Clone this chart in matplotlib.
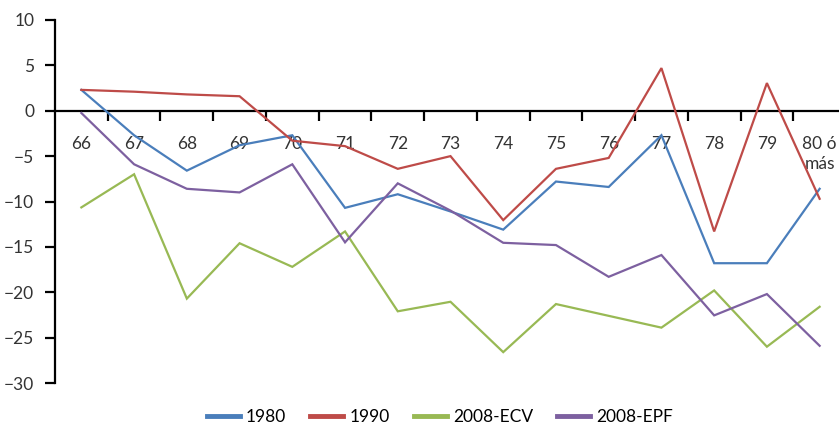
import matplotlib
matplotlib.use("Agg")
import matplotlib.pyplot as plt
import numpy as np

plt.rcParams["font.family"] = ["Lato", "DejaVu Sans"]

edades = ["66", "67", "68", "69", "70", "71", "72", "73", "74", "75",
          "76", "77", "78", "79", "80 ó\nmás"]

s1980 = [2.3, -2.7, -6.6, -3.8, -2.7, -10.7, -9.2, -11.1, -13.1, -7.8,
         -8.4, -2.7, -16.8, -16.8, -8.6]
s1990 = [2.3, 2.1, 1.8, 1.6, -3.3, -3.9, -6.4, -5.0, -12.05, -6.4,
         -5.2, 4.7, -13.3, 3.05, -9.7]
s2008_ecv = [-10.65, -7.0, -20.7, -14.6, -17.2, -13.3, -22.1, -21.05, -26.6, -21.3,
             -22.6, -23.9, -19.8, -26.0, -21.6]
s2008_epf = [-0.25, -5.9, -8.6, -9.0, -5.9, -14.5, -8.0, -11.0, -14.55, -14.8,
             -18.3, -15.9, -22.55, -20.2, -25.9]

series = [
    ("1980", s1980, "#4A7EBB"),
    ("1990", s1990, "#BE4B48"),
    ("2008-ECV", s2008_ecv, "#98B954"),
    ("2008-EPF", s2008_epf, "#7D60A0"),
]

W, H = 839, 425
fig = plt.figure(figsize=(W / 100, H / 100), dpi=100)
ax = fig.add_axes([55 / W, 42 / H, (846 - 55) / W, 363 / H])

x = np.arange(len(edades))
for nombre, vals, col in series:
    ax.plot(x, vals, color=col, lw=1.6, label=nombre, solid_joinstyle="miter")

ax.set_xlim(-0.5, len(edades) - 0.5)
ax.set_ylim(-30, 10)
ax.set_yticks(np.arange(-30, 11, 5))

for s in ("top", "right"):
    ax.spines[s].set_visible(False)
ax.spines["bottom"].set_position(("data", 0))
ax.spines["bottom"].set_linewidth(1.6)
ax.spines["left"].set_linewidth(1.6)
ax.spines["bottom"].set_zorder(1)

# etiquetas en el centro de cada categoría, marcas en los límites
ax.set_xticks(x)
ax.set_xticklabels(edades, fontsize=12.5, color="#333333", linespacing=1.3,
                   va="top")
ax.set_xticks(np.arange(0.5, len(edades) - 1, 1), minor=True)
ax.tick_params(axis="x", which="major", length=0, pad=18)
ax.tick_params(axis="x", which="minor", length=7, width=1.6, direction="out")
ax.tick_params(axis="y", length=7, width=1.6, pad=8, labelsize=12.5,
               labelcolor="#333333")

fig.legend(loc="center", bbox_to_anchor=(440 / W, 8 / H), ncol=4, frameon=False,
           fontsize=12.5, handlelength=1.9, handletextpad=0.35,
           columnspacing=1.4, borderaxespad=0)
for ln in fig.legends[0].get_lines():
    ln.set_linewidth(3.5)

fig.savefig("out.png", dpi=100)
